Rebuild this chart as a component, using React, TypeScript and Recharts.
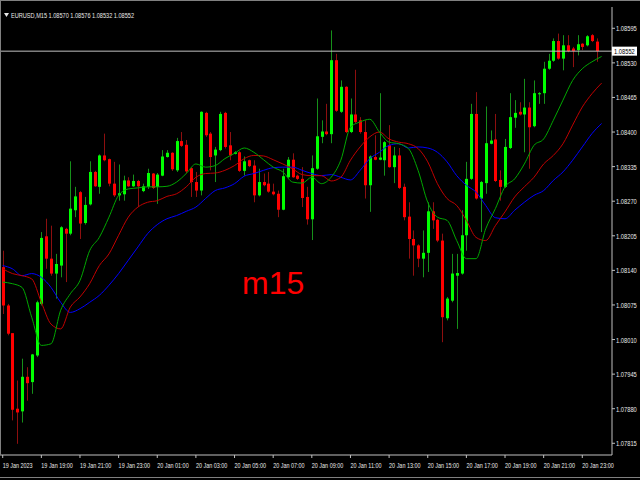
import { ComposedChart, Bar, Line, XAxis, YAxis, ReferenceLine } from 'recharts';

// EURUSD M15, 19 Jan 17:00 .. 20 Jan 23:45
const opens = [
  1.08146, 1.08074, 1.08022, 1.0788, 1.07875, 1.0794, 1.0793, 1.0798, 1.08077, 1.08204,
  1.08162, 1.08134, 1.08149, 1.08218, 1.08209, 1.08253, 1.08287, 1.08229, 1.08264, 1.08325,
  1.08297, 1.08356, 1.08349, 1.08303, 1.08281, 1.08283, 1.08309, 1.08298, 1.08308, 1.08289,
  1.08297, 1.08322, 1.08297, 1.08318, 1.08353, 1.08361, 1.08328, 1.08383, 1.08376, 1.08332,
  1.08306, 1.0829, 1.08436, 1.08397, 1.08356, 1.08366, 1.08436, 1.08375, 1.08359, 1.08362,
  1.08327, 1.08347, 1.08337, 1.08281, 1.08306, 1.08303, 1.08288, 1.08284, 1.08254, 1.08315,
  1.08348, 1.08318, 1.08312, 1.08278, 1.08236, 1.08331, 1.08391, 1.08401, 1.08396, 1.08535,
  1.08438, 1.08485, 1.084, 1.08433, 1.08422, 1.084, 1.083, 1.08353, 1.08348, 1.08347,
  1.08375, 1.08334, 1.08356, 1.08297, 1.08241, 1.08199, 1.08187, 1.08162, 1.08173, 1.08251,
  1.08235, 1.08196, 1.0805, 1.08083, 1.0813, 1.08134, 1.08206, 1.08312, 1.08434, 1.08275,
  1.08304, 1.08378, 1.08386, 1.0831, 1.08297, 1.0837, 1.08427, 1.08438, 1.08433, 1.08446,
  1.08411, 1.08471, 1.08473, 1.08519, 1.08534, 1.08571, 1.08538, 1.08563, 1.08557, 1.08554,
  1.08566, 1.08563, 1.08582, 1.0857,
];
const highs = [
  1.08177, 1.08077, 1.08022, 1.07933, 1.07974, 1.07958, 1.07983, 1.08083, 1.08212, 1.08237,
  1.08224, 1.08171, 1.08223, 1.0822, 1.08345, 1.08297, 1.08289, 1.08278, 1.08345, 1.08327,
  1.08358, 1.08397, 1.0835, 1.08344, 1.08339, 1.08318, 1.08315, 1.0832, 1.0831, 1.08303,
  1.08331, 1.08323, 1.08323, 1.08366, 1.08366, 1.08362, 1.08389, 1.084, 1.08385, 1.08334,
  1.08325, 1.08439, 1.08438, 1.084, 1.08372, 1.08438, 1.08438, 1.084, 1.08364, 1.08364,
  1.08354, 1.08348, 1.08347, 1.08331, 1.08322, 1.08325, 1.08303, 1.0829, 1.08331, 1.08353,
  1.0836, 1.0832, 1.08334, 1.08297, 1.08356, 1.08463, 1.08422, 1.08453, 1.08591, 1.08547,
  1.08497, 1.08486, 1.08463, 1.08517, 1.08428, 1.08422, 1.08356, 1.08394, 1.08473, 1.08383,
  1.08413, 1.08372, 1.0837, 1.08303, 1.08268, 1.08215, 1.08189, 1.08215, 1.08268, 1.08268,
  1.08237, 1.08209, 1.0809, 1.08171, 1.08171, 1.08253, 1.08344, 1.08453, 1.08475, 1.08308,
  1.08448, 1.08403, 1.08434, 1.08328, 1.08387, 1.08473, 1.0846, 1.08456, 1.085, 1.08456,
  1.08497, 1.08475, 1.08532, 1.08547, 1.08576, 1.08585, 1.08582, 1.08582, 1.0856, 1.08582,
  1.08567, 1.08582, 1.08584, 1.08576,
];
const lows = [
  1.08058, 1.08018, 1.07858, 1.07814, 1.07854, 1.07895, 1.07908, 1.07977, 1.08074, 1.08143,
  1.0813, 1.08087, 1.08127, 1.08118, 1.08206, 1.0824, 1.08199, 1.08226, 1.08262, 1.08297,
  1.08284, 1.08345, 1.08298, 1.08278, 1.08271, 1.08271, 1.08297, 1.08297, 1.08259, 1.08287,
  1.08293, 1.08293, 1.08265, 1.08317, 1.08352, 1.08327, 1.08325, 1.08372, 1.08322, 1.08278,
  1.08278, 1.08281, 1.08391, 1.08328, 1.08306, 1.08364, 1.08369, 1.08347, 1.08358, 1.08325,
  1.08318, 1.08334, 1.08268, 1.08279, 1.08298, 1.08286, 1.08281, 1.0824, 1.08253, 1.08314,
  1.08314, 1.0831, 1.08259, 1.08226, 1.08197, 1.08329, 1.08379, 1.08394, 1.08379, 1.08438,
  1.08436, 1.08398, 1.08398, 1.08416, 1.08397, 1.08275, 1.0825, 1.08347, 1.08347, 1.08318,
  1.08333, 1.08304, 1.08293, 1.08234, 1.08162, 1.0813, 1.08146, 1.08127, 1.08137, 1.08218,
  1.08193, 1.08005, 1.08046, 1.0808, 1.0803, 1.08132, 1.08177, 1.0831, 1.08273, 1.08212,
  1.08284, 1.08377, 1.08306, 1.08271, 1.08295, 1.08368, 1.08408, 1.08431, 1.08362, 1.08331,
  1.08409, 1.08453, 1.08453, 1.08517, 1.08532, 1.08536, 1.08516, 1.0855, 1.08522, 1.08544,
  1.08554, 1.08561, 1.08569, 1.08532,
];
const closes = [
  1.08074, 1.08021, 1.07878, 1.07873, 1.0794, 1.07928, 1.07982, 1.0808, 1.08201, 1.08162,
  1.08134, 1.08152, 1.08221, 1.08209, 1.08256, 1.08279, 1.08228, 1.08263, 1.08325, 1.08298,
  1.08356, 1.08347, 1.08303, 1.08281, 1.08285, 1.08309, 1.08298, 1.08308, 1.08298, 1.08298,
  1.08323, 1.08295, 1.0832, 1.08354, 1.08361, 1.0833, 1.08383, 1.08374, 1.08326, 1.08306,
  1.0829, 1.08438, 1.08394, 1.08353, 1.08367, 1.08434, 1.08372, 1.08356, 1.08362, 1.08327,
  1.08345, 1.08336, 1.08281, 1.08306, 1.083, 1.08288, 1.08283, 1.08254, 1.08317, 1.08348,
  1.08315, 1.08312, 1.08276, 1.08236, 1.08332, 1.08392, 1.08401, 1.08396, 1.08535, 1.0844,
  1.08485, 1.084, 1.08433, 1.08419, 1.084, 1.083, 1.08354, 1.08348, 1.08352, 1.08381,
  1.08334, 1.08356, 1.08295, 1.0824, 1.08199, 1.08187, 1.08162, 1.08173, 1.08251, 1.08234,
  1.08196, 1.08052, 1.08087, 1.08134, 1.08135, 1.08206, 1.08312, 1.08434, 1.08275, 1.08306,
  1.08379, 1.08384, 1.08308, 1.08297, 1.08372, 1.08428, 1.08436, 1.08433, 1.08446, 1.08409,
  1.08473, 1.08473, 1.08519, 1.08534, 1.08571, 1.08538, 1.08563, 1.08552, 1.08552, 1.08565,
  1.0856, 1.0858, 1.08571, 1.08552,
];

// moving averages, one value every second bar
const maFast = [
  1.08118, 1.08115, 1.08108, 1.08052, 1.07999, 1.08002, 1.08065, 1.08096, 1.08121, 1.08177,
  1.08202, 1.0824, 1.08281, 1.08293, 1.08295, 1.08297, 1.08297, 1.08298, 1.08306, 1.08322,
  1.0834, 1.08334, 1.08337, 1.0835, 1.0836, 1.0837, 1.08362, 1.08348, 1.08334, 1.08325,
  1.08306, 1.08304, 1.08315, 1.08303, 1.08315, 1.08347, 1.08409, 1.08419, 1.08424, 1.084,
  1.08381, 1.08378, 1.08369, 1.08328, 1.08268, 1.0824, 1.08234, 1.08196, 1.08162, 1.08162,
  1.08218, 1.08256, 1.08297, 1.08312, 1.0834, 1.08375, 1.08387, 1.08422, 1.0846, 1.08497,
  1.08519, 1.08532, 1.08542,
];
const maMid = [
  1.08143, 1.08134, 1.0813, 1.08124, 1.0808, 1.08039, 1.0803, 1.08071, 1.0809, 1.08115,
  1.08149, 1.08171, 1.08206, 1.0824, 1.08259, 1.08268, 1.08271, 1.08279, 1.08284, 1.08297,
  1.08315, 1.08322, 1.08323, 1.08328, 1.08337, 1.0835, 1.08356, 1.08355, 1.08348, 1.0834,
  1.08331, 1.0832, 1.08318, 1.08318, 1.08308, 1.08315, 1.08347, 1.08372, 1.08391, 1.084,
  1.08387, 1.08381, 1.08378, 1.08369, 1.08344, 1.08303, 1.08275, 1.08262, 1.08234, 1.08202,
  1.08196, 1.08224, 1.0825, 1.08278, 1.08297, 1.08315, 1.0834, 1.08356, 1.08378, 1.08413,
  1.08447, 1.08472, 1.08492,
];
const maSlow = [
  1.08149, 1.08143, 1.0813, 1.08134, 1.08127, 1.08108, 1.0808, 1.08061, 1.08068, 1.0808,
  1.08093, 1.08112, 1.08134, 1.08159, 1.08184, 1.08209, 1.08226, 1.08237, 1.08243, 1.08251,
  1.08259, 1.08275, 1.0829, 1.08295, 1.08303, 1.08317, 1.08322, 1.08328, 1.08333, 1.08334,
  1.08334, 1.08328, 1.08322, 1.08318, 1.0832, 1.08315, 1.0831, 1.08328, 1.0835, 1.08362,
  1.08375, 1.08378, 1.0837, 1.08372, 1.0837, 1.08362, 1.08344, 1.08318, 1.083, 1.08287,
  1.08262, 1.08239, 1.08237, 1.08253, 1.08268, 1.08281, 1.0829, 1.08309, 1.08325, 1.08347,
  1.08372, 1.08397, 1.08416,
];

const timeLabels = [
  '19 Jan 2023', '19 Jan 19:00', '19 Jan 21:00', '19 Jan 23:00',
  '20 Jan 01:00', '20 Jan 03:00', '20 Jan 05:00', '20 Jan 07:00',
  '20 Jan 09:00', '20 Jan 11:00', '20 Jan 13:00', '20 Jan 15:00',
  '20 Jan 17:00', '20 Jan 19:00', '20 Jan 21:00', '20 Jan 23:00',
];
const priceTicks = [
  1.08595, 1.0853, 1.08465, 1.084, 1.08335, 1.0827, 1.08205,
  1.0814, 1.08075, 1.0801, 1.07945, 1.0788, 1.07815,
];

const symbol = 'EURUSD,M15';
const BARS_PER_LABEL = 8;
const SLOTS = 126;

const last = opens.length - 1;
const lastClose = closes[last];

const rows = Array.from({ length: SLOTS }, (_, i) => {
  const has = i <= last;
  const ma = i % 2 === 0 ? i / 2 : -1;
  return {
    idx: i,
    open: has ? opens[i] : null,
    high: has ? highs[i] : null,
    low: has ? lows[i] : null,
    close: has ? closes[i] : null,
    range: has ? [lows[i], highs[i]] : null,
    fast: ma >= 0 && ma < maFast.length ? maFast[ma] : null,
    mid: ma >= 0 && ma < maMid.length ? maMid[ma] : null,
    slow: ma >= 0 && ma < maSlow.length ? maSlow[ma] : null,
  };
});

const fmt = (v: number) => v.toFixed(5);
const axisFont = '"Liberation Sans", sans-serif';

// narrow terminal-style label: normal glyphs squeezed horizontally
function NarrowText({ x, y, fill, squeeze, children }: any) {
  return (
    <text
      transform={`translate(${x},${y}) scale(${squeeze},1)`}
      fill={fill}
      fontSize={8}
      fontFamily={axisFont}
    >
      {children}
    </text>
  );
}

function Candle(props: any) {
  const { x, y, width, height, payload } = props;
  if (payload == null || payload.open == null) return null;
  const { open, close, high, low } = payload;
  const top = Math.min(y, y + height);
  const bottom = Math.max(y, y + height);
  const span = high - low;
  const toY = (p: number) => (span === 0 ? top : top + ((high - p) / span) * (bottom - top));
  const cx = Math.round(x + width / 2) + 0.5;
  const up = close >= open;
  const bodyTop = toY(Math.max(open, close));
  const bodyBottom = toY(Math.min(open, close));
  return (
    <g>
      <line x1={cx} x2={cx} y1={top} y2={Math.max(bottom, top + 1)} stroke={up ? '#16901a' : '#8e0f0f'} strokeWidth={1} />
      <rect
        x={cx - 1.5}
        y={bodyTop}
        width={3}
        height={Math.max(bodyBottom - bodyTop, 1)}
        fill={up ? '#00ff00' : '#ff0000'}
      />
    </g>
  );
}

function PriceTick(props: any) {
  const { x, y, payload } = props;
  const v = payload.value;
  if (v === lastClose) {
    return (
      <g>
        <rect x={x} y={y - 4.5} width={25} height={9} fill="#ffffff" />
        <NarrowText x={x + 2} y={y + 3} fill="#000000" squeeze={0.72}>
          {fmt(v)}
        </NarrowText>
      </g>
    );
  }
  return (
    <g>
      <line x1={x} x2={x + 3} y1={y} y2={y} stroke="#c0c0c0" />
      <NarrowText x={x + 4} y={y + 3} fill="#e8e8e8" squeeze={0.72}>
        {fmt(v)}
      </NarrowText>
    </g>
  );
}

function TimeTick(props: any) {
  const { x, y, payload } = props;
  const label = timeLabels[Math.round(payload.value / BARS_PER_LABEL)];
  return (
    <g>
      <line x1={x} x2={x} y1={y} y2={y + 3} stroke="#c0c0c0" />
      <NarrowText x={x} y={y + 13} fill="#e8e8e8" squeeze={0.68}>
        {label}
      </NarrowText>
    </g>
  );
}

export default function App() {
  const timeTicks = timeLabels.map((_, k) => k * BARS_PER_LABEL);
  const header = symbol + '  ' + [opens[last], highs[last], lows[last], closes[last]].map(fmt).join(' ');
  return (
    <div style={{ position: 'fixed', left: 0, top: 0, width: 640, height: 480, background: '#000000' }}>
      <ComposedChart width={640} height={480} data={rows} margin={{ top: 7, right: 0, bottom: 0, left: 0 }}>
        <XAxis
          dataKey="idx"
          type="number"
          domain={[-0.56, 126.15]}
          allowDataOverflow
          ticks={timeTicks}
          interval={0}
          height={25}
          tickSize={0}
          tickMargin={0}
          tickLine={false}
          axisLine={{ stroke: '#c0c0c0' }}
          tick={<TimeTick />}
        />
        <YAxis
          orientation="right"
          type="number"
          domain={[1.07793, 1.08635]}
          allowDataOverflow
          ticks={[...priceTicks, lastClose]}
          interval={0}
          width={28}
          tickSize={0}
          tickMargin={0}
          tickLine={false}
          axisLine={{ stroke: '#c0c0c0' }}
          tick={<PriceTick />}
        />
        <Bar dataKey="range" barSize={3} shape={<Candle />} isAnimationActive={false} />
        <Line type="monotone" dataKey="slow" stroke="#0000ff" strokeWidth={1} dot={false} connectNulls isAnimationActive={false} />
        <Line type="monotone" dataKey="mid" stroke="#c00000" strokeWidth={1} dot={false} connectNulls isAnimationActive={false} />
        <Line type="monotone" dataKey="fast" stroke="#00a800" strokeWidth={1} dot={false} connectNulls isAnimationActive={false} />
        <ReferenceLine y={lastClose} stroke="#c0c0c0" strokeWidth={1} />
      </ComposedChart>
      <svg width={640} height={480} style={{ position: 'absolute', left: 0, top: 0, pointerEvents: 'none' }}>
        {/* window frame */}
        <line x1={0} x2={640} y1={0.5} y2={0.5} stroke="#808080" />
        <line x1={0.5} x2={0.5} y1={0} y2={455} stroke="#808080" />
        <line x1={0} x2={640} y1={477.5} y2={477.5} stroke="#808080" />
        <path d="M4 13 L9 13 L6.5 17 Z" fill="#e8e8e8" />
        <NarrowText x={11} y={18} fill="#e8e8e8" squeeze={0.7}>
          {header}
        </NarrowText>
      </svg>
      <div
        style={{
          position: 'absolute',
          left: 242,
          top: 265,
          color: '#ff0000',
          fontFamily: '"Liberation Sans", Arial, sans-serif',
          fontSize: 32,
          lineHeight: '36px',
        }}
      >
        m15
      </div>
    </div>
  );
}
